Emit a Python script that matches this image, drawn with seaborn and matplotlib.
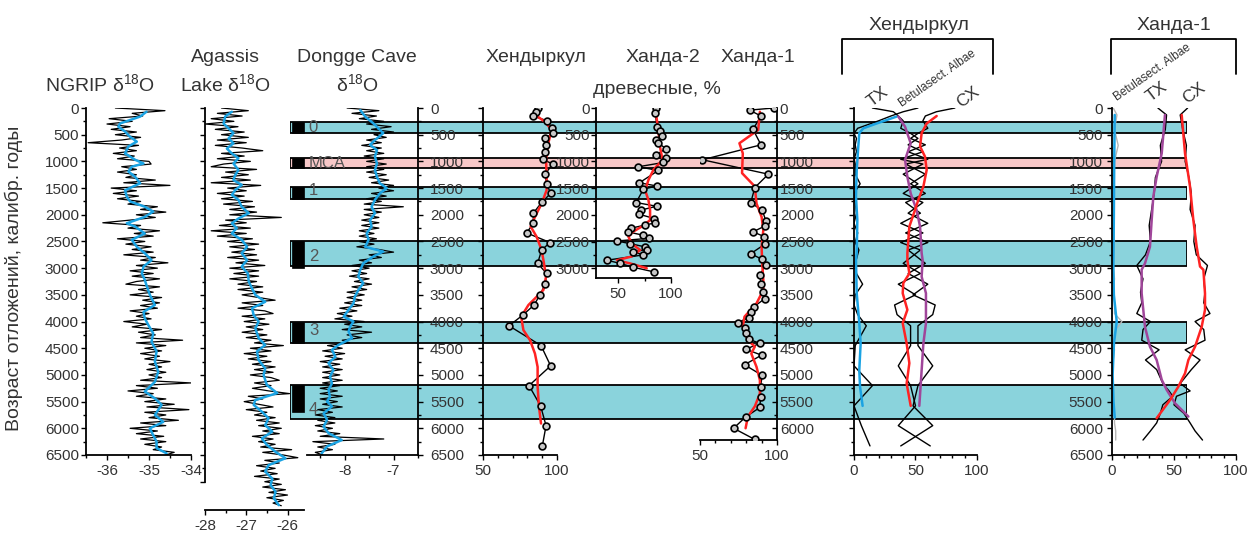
import numpy as np
import matplotlib
matplotlib.use("Agg")
import matplotlib.pyplot as plt
import seaborn as sns
from matplotlib.ticker import MultipleLocator
from matplotlib.lines import Line2D

sns.set_theme(style="ticks")
plt.rcParams["font.family"] = ["Liberation Sans", "DejaVu Sans"]
plt.rcParams["mathtext.fontset"] = "custom"
plt.rcParams["mathtext.rm"] = "Liberation Sans"
plt.rcParams["axes.unicode_minus"] = False

# ---------------- данные (возраст, кал. лет назад) ----------------
# NGRIP d18O, шаг 50 лет
ngrip_age = np.arange(0, 6501, 50)
ngrip_d18o = [
    -35.80, -34.62, -35.40, -35.15, -35.95, -35.40, -36.00, -35.45, -35.90, -35.30,
    -35.80, -35.20, -35.65, -36.45, -35.25, -35.70, -35.30, -35.85, -35.35, -35.75,
    -35.00, -34.95, -35.65, -35.30, -35.75, -35.30, -35.55, -34.85, -35.60, -34.50,
    -35.90, -35.30, -35.85, -35.25, -35.75, -35.20, -35.50, -34.80, -35.20, -34.60,
    -35.30, -34.85, -35.45, -36.10, -35.20, -35.50, -34.75, -35.35, -34.90, -35.75,
    -35.10, -35.55, -34.95, -35.40, -34.90, -35.60, -34.85, -35.20, -34.55, -35.30,
    -34.80, -35.45, -34.90, -35.40, -34.75, -35.30, -35.55, -34.75, -35.25, -34.90,
    -35.45, -34.70, -35.15, -34.75, -35.20, -34.80, -35.45, -35.00, -35.30, -34.95,
    -35.60, -35.05, -35.40, -34.70, -35.25, -34.85, -35.20, -34.20, -35.30, -34.60,
    -35.10, -34.70, -35.20, -34.75, -35.10, -34.50, -35.00, -34.70, -35.05, -34.60,
    -35.00, -34.70, -35.20, -34.00, -35.30, -34.80, -35.50, -34.90, -35.30, -34.60,
    -35.10, -34.40, -35.05, -34.05, -35.10, -34.60, -35.00, -34.30, -35.20, -34.60,
    -35.45, -34.80, -35.30, -34.65, -35.20, -34.60, -35.10, -34.70, -34.90, -34.40,
    -34.60]
ngrip_s_age = [70, 160, 290, 350, 440, 540, 630, 720, 850, 970, 1040, 1100, 1190, 1290,
               1410, 1540, 1660, 1750, 1850, 1940, 2040, 2160, 2220, 2350, 2470, 2600,
               2720, 2850, 2970, 3100, 3220, 3320, 3500, 3690, 3820, 3940, 4060, 4220,
               4380, 4560, 4750, 4940, 5130, 5310, 5440, 5560, 5750, 5880, 6000, 6130,
               6250, 6370, 6470]
ngrip_s = [-35.06, -35.21, -35.69, -35.73, -35.57, -35.45, -35.29, -35.49, -35.57, -35.33,
           -35.13, -35.41, -35.49, -35.33, -35.21, -35.57, -35.53, -35.45, -35.10, -34.90,
           -35.10, -35.53, -35.33, -35.10, -35.41, -35.29, -35.10, -34.94, -35.13, -35.17,
           -35.10, -35.06, -34.98, -34.86, -35.13, -35.10, -35.02, -34.90, -34.94, -34.82,
           -34.86, -34.78, -34.86, -35.10, -34.86, -34.70, -34.86, -34.66, -34.98, -34.90,
           -34.82, -34.82, -34.58]

# Agassiz Lake d18O, шаг 50 лет
agassiz_age = np.arange(0, 7451, 50)
agassiz_d18o = [
    -27.60, -26.95, -27.70, -27.10, -27.85, -27.30, -28.00, -27.20, -27.75, -27.05,
    -27.60, -26.95, -27.70, -27.00, -27.75, -27.10, -26.60, -27.60, -27.05, -27.70,
    -26.90, -27.55, -27.85, -26.75, -27.50, -26.95, -27.60, -26.90, -27.85, -26.65,
    -27.45, -27.00, -27.70, -27.05, -27.60, -26.85, -27.55, -26.80, -27.40, -26.75,
    -27.40, -26.15, -27.50, -27.00, -27.65, -26.90, -27.85, -27.00, -27.70, -26.85,
    -27.45, -26.70, -27.40, -26.80, -27.35, -26.75, -27.45, -26.70, -27.25, -26.55,
    -27.40, -26.70, -27.30, -26.70, -27.40, -26.75, -27.20, -26.60, -27.20, -26.60,
    -27.10, -26.70, -26.30, -27.10, -26.60, -27.20, -26.55, -26.35, -27.10, -26.55,
    -27.05, -26.45, -27.00, -26.60, -27.10, -26.50, -27.00, -26.40, -26.80, -26.10,
    -26.90, -26.40, -27.05, -26.50, -26.95, -26.40, -26.85, -26.30, -26.80, -26.35,
    -26.90, -26.40, -26.20, -26.80, -26.40, -26.85, -26.45, -25.95, -26.95, -26.60,
    -27.05, -26.70, -26.35, -27.00, -26.50, -26.80, -26.30, -26.75, -26.20, -26.70,
    -26.15, -26.60, -26.20, -26.85, -26.35, -26.70, -26.30, -26.65, -25.90, -26.60,
    -26.10, -25.75, -26.55, -26.20, -26.75, -26.30, -26.65, -26.25, -26.80, -26.20,
    -26.55, -26.15, -26.60, -26.05, -26.45, -26.00, -26.50, -26.10, -26.35, -26.15]
agassiz_s_age = [70, 160, 290, 380, 470, 570, 660, 760, 850, 940, 1040, 1160, 1260, 1350,
                 1440, 1540, 1630, 1720, 1850, 1970, 2070, 2160, 2250, 2350, 2470, 2600,
                 2720, 2850, 2970, 3100, 3250, 3380, 3500, 3630, 3750, 3880, 4000, 4130,
                 4310, 4440, 4560, 4720, 4880, 5000, 5190, 5340, 5470, 5560, 5690, 5810,
                 5940, 6060, 6190, 6310, 6440, 6560, 6690, 6810, 6940, 7060, 7190, 7310,
                 7440]
agassiz_s = [-27.35, -27.51, -27.55, -27.43, -27.31, -27.43, -27.31, -27.47, -27.35, -27.19,
             -27.31, -27.19, -27.27, -27.31, -27.11, -27.27, -27.35, -27.19, -27.11, -26.94,
             -27.19, -27.35, -27.23, -27.35, -27.11, -26.98, -27.11, -26.98, -27.11, -26.96,
             -26.94, -26.86, -26.78, -26.54, -26.86, -26.82, -26.70, -26.78, -26.70, -26.54,
             -26.74, -26.70, -26.54, -26.58, -26.50, -26.25, -26.78, -26.82, -26.62, -26.46,
             -26.54, -26.37, -26.62, -26.50, -26.29, -26.05, -26.46, -26.54, -26.37, -26.41,
             -26.29, -26.33, -26.21]

# Dongge Cave d18O, шаг 50 лет
dongge_age = np.arange(0, 6501, 50)
dongge_d18o = [
    -7.95, -7.30, -7.85, -7.35, -7.70, -7.20, -7.55, -7.05, -7.45, -7.00,
    -7.40, -7.15, -7.55, -7.25, -7.65, -7.25, -7.55, -7.20, -7.60, -7.20,
    -7.55, -7.15, -7.55, -7.20, -7.55, -7.15, -7.50, -7.10, -7.45, -7.00,
    -7.30, -7.00, -7.45, -7.15, -7.55, -7.25, -7.60, -6.80, -7.60, -7.25,
    -7.60, -7.30, -7.65, -7.30, -7.65, -7.30, -7.70, -7.40, -7.70, -7.35,
    -7.70, -7.40, -7.75, -7.30, -7.00, -7.50, -7.25, -7.70, -7.45, -7.85,
    -7.50, -7.85, -7.55, -7.90, -7.50, -7.80, -7.45, -7.85, -7.55, -7.95,
    -7.60, -7.95, -7.65, -8.00, -7.65, -8.10, -7.75, -8.15, -7.85, -8.20,
    -7.60, -8.00, -7.65, -8.05, -7.45, -7.95, -7.65, -8.05, -7.90, -8.35,
    -8.05, -8.45, -8.00, -8.40, -8.05, -8.50, -8.10, -8.45, -8.05, -8.45,
    -8.10, -8.45, -8.05, -8.45, -8.10, -8.50, -8.15, -8.50, -8.05, -8.50,
    -8.15, -8.45, -8.05, -8.55, -8.25, -8.60, -8.20, -8.55, -8.20, -8.60,
    -8.25, -8.55, -8.10, -8.50, -7.20, -8.65, -8.20, -8.55, -8.25, -8.60,
    -8.45]
dongge_s_age = [40, 160, 290, 410, 470, 600, 690, 790, 910, 1040, 1160, 1290, 1410, 1500,
                1600, 1720, 1850, 1970, 2100, 2220, 2350, 2470, 2600, 2690, 2780, 2910,
                3030, 3160, 3280, 3410, 3530, 3660, 3780, 3910, 4000, 4100, 4190, 4310,
                4440, 4530, 4660, 4780, 4910, 5030, 5160, 5280, 5410, 5500, 5590, 5720,
                5840, 5970, 6090, 6220, 6340, 6470]
dongge_s = [-7.68, -7.58, -7.41, -7.28, -7.21, -7.38, -7.48, -7.34, -7.38, -7.34,
            -7.38, -7.34, -7.28, -7.14, -7.28, -7.38, -7.45, -7.38, -7.48, -7.45,
            -7.55, -7.51, -7.58, -7.21, -7.41, -7.62, -7.68, -7.72, -7.62, -7.72,
            -7.79, -7.82, -7.92, -8.02, -7.82, -7.89, -7.92, -7.85, -8.13, -8.26,
            -8.19, -8.33, -8.23, -8.30, -8.26, -8.33, -8.30, -8.36, -8.26, -8.43,
            -8.36, -8.43, -8.33, -8.06, -8.36, -8.47]

# Хендыркул: древесные, %
khend_age = [0, 70, 150, 240, 380, 475, 570, 690, 820, 960, 1050, 1240, 1420, 1600, 1770,
             1970, 2160, 2340, 2520, 2660, 2910, 3100, 3300, 3500, 3690, 3870, 4080, 4450,
             4830, 5200, 5580, 5950, 6330]
khend_woody = [87.4, 85.8, 83.6, 93.5, 96.4, 97.1, 91.9, 92.6, 91.9, 90.3, 97.1, 91.9, 93.0,
               95.7, 89.6, 84.0, 84.0, 79.5, 95.3, 89.6, 86.9, 93.0, 92.0, 88.5, 84.5, 77.3,
               67.6, 89.2, 95.7, 81.1, 88.9, 92.6, 90.1]
khend_s_age = [130, 260, 410, 660, 970, 1290, 1540, 1790, 2040, 2220, 2410, 2660, 2910,
               3160, 3410, 3690, 3910, 4160, 4350, 4600, 4850, 5220, 5590, 5910]
khend_s = [85.4, 91.9, 96.4, 94.1, 92.6, 93.0, 93.0, 89.6, 85.1, 82.2, 86.2, 89.6, 91.2,
           92.6, 90.8, 80.7, 75.8, 77.3, 81.8, 85.1, 86.9, 86.9, 87.8, 89.2]

# Ханда-2: древесные, %
kh2_age = [0, 90, 350, 440, 520, 600, 660, 760, 880, 940, 1020, 1100, 1170, 1400, 1460,
           1520, 1770, 1840, 1910, 1990, 2070, 2150, 2190, 2250, 2320, 2380, 2440, 2490,
           2540, 2600, 2650, 2690, 2750, 2850, 2910, 2980, 3070]
kh2_woody = [85.5, 84.8, 87.0, 89.5, 91.1, 85.8, 88.0, 95.3, 85.8, 95.3, 92.8, 69.2, 88.0,
             70.1, 86.5, 73.9, 67.0, 86.5, 71.7, 70.1, 84.2, 85.2, 75.8, 62.3, 59.1, 73.3,
             79.0, 48.8, 61.3, 75.5, 77.0, 63.8, 73.9, 39.3, 51.9, 63.8, 84.2]
kh2_s_age = [70, 410, 720, 970, 1160, 1350, 1540, 1720, 1910, 2100, 2220, 2320, 2410, 2540,
             2660, 2780, 2850, 2910, 3000]
kh2_s = [85.5, 88.0, 89.5, 92.0, 83.3, 78.6, 75.5, 78.6, 80.2, 80.2, 72.3, 63.8, 59.7, 62.9,
         70.8, 62.9, 48.8, 61.3, 77.0]

# Ханда-1: древесные, %
kh1_age = [0, 40, 150, 400, 690, 970, 1240, 1490, 1780, 1910, 2110, 2210, 2320, 2410, 2550,
           2730, 2830, 2940, 3130, 3300, 3440, 3570, 3720, 3820, 3930, 4020, 4130, 4220,
           4330, 4410, 4520, 4630, 4810, 5010, 5220, 5420, 5610, 5790, 6000, 6210]
kh1_woody = [97.8, 82.2, 89.6, 84.4, 89.6, 51.6, 94.4, 85.6, 82.9, 90.4, 92.7, 92.2, 84.4,
             91.8, 92.2, 82.9, 90.0, 92.7, 88.9, 89.6, 91.1, 92.2, 85.1, 82.9, 81.6, 74.4,
             78.9, 80.0, 81.6, 88.9, 79.6, 90.0, 78.9, 90.4, 89.3, 89.3, 88.9, 79.6, 71.8,
             85.6]
kh1_s_age = [70, 410, 660, 850, 1220, 1470, 1790, 2040, 2290, 2600, 2910, 3220, 3410, 3660,
             3910, 4100, 4350, 4470, 4600, 4850, 5100, 5350, 5590, 5780, 6000]
kh1_s = [88.9, 87.8, 75.6, 77.8, 77.3, 85.6, 86.7, 90.0, 91.1, 90.0, 90.4, 91.1, 91.1, 86.7,
         78.9, 77.8, 81.1, 85.6, 83.3, 86.7, 88.9, 88.9, 85.6, 81.1, 79.6]

# Хендыркул: пыльца, % (образцы те же, что и для древесных)
khend_betula = [52, 40, 30, 20, 3, 0, 2, 1, 2, 0, 1, 1, 5, 0, 1, 2, 0, 3, 1, 4, 1, 2, 7, 1,
                0, 3, 10, 1, 0, 15, 0, 6, 13]
khend_tx = [15, 32, 36, 40, 38, 46, 52, 44, 56, 38, 56, 40, 52, 40, 56, 44, 60, 42, 60, 44,
            58, 44, 60, 48, 66, 64, 52, 52, 64, 52, 48, 64, 38]
khend_cx = [82, 67, 58, 56, 60, 52, 46, 58, 44, 60, 42, 58, 46, 58, 42, 54, 38, 56, 38, 54,
            40, 54, 36, 50, 33, 35, 46, 46, 36, 46, 50, 36, 62]
khend_betula_s_age = [160, 290, 380, 470, 720, 1160, 1660, 2100, 2720, 2850, 3470, 4030,
                      4410, 4910, 5220, 5580]
khend_betula_s = [34.7, 18.4, 7.6, 4.3, 3.5, 2.2, 1.6, 2.7, 2.2, 1.6, 2.2, 4.3, 5.4, 4.3,
                  4.9, 7.0]
khend_tx_s_age = [160, 350, 660, 970, 1290, 1600, 1910, 2220, 2720, 2850, 3160, 3470, 4030,
                  4410, 4910, 5580]
khend_tx_s = [36.0, 41.5, 46.1, 41.5, 43.4, 46.1, 50.9, 53.7, 55.0, 55.8, 55.0, 58.5, 58.5,
              56.4, 55.0, 53.1]
khend_cx_s_age = [150, 290, 470, 720, 910, 1160, 1470, 1720, 1910, 2220, 2720, 2850, 3100,
                  3280, 3470, 3780, 4030, 4410, 4780, 5160, 5580]
khend_cx_s = [67.2, 59.1, 55.0, 53.7, 57.7, 59.1, 56.4, 52.3, 49.6, 45.0, 43.4, 43.4, 45.0,
              40.1, 39.6, 43.4, 39.6, 42.8, 45.0, 42.8, 46.1]

# Ханда-1: пыльца, %
kh1p_age = [0, 130, 400, 700, 1000, 1300, 1600, 1900, 2200, 2500, 2750, 2950, 3200, 3450,
            3650, 3850, 4000, 4150, 4350, 4530, 4720, 4900, 5160, 5300, 5400, 5560, 5720,
            5900, 6050, 6220]
kh1p_betula = [1, 4, 2, 5, 2, 1, 2, 1, 1, 2, 1, 1, 2, 1, 2, 2, 8, 3, 1, 2, 1, 0, 1, 0, 1, 1,
               2, 2, 3, 3]
kh1p_tx = [37, 44, 43, 39, 40, 35, 34, 32, 30, 31, 27, 20, 25, 23, 24, 20, 31, 25, 24, 38,
           27, 36, 41, 46, 49, 41, 39, 36, 31, 25]
kh1p_cx = [61, 55, 57, 60, 59, 62, 64, 63, 67, 66, 68, 77, 74, 75, 74, 79, 67, 74, 75, 59,
           71, 64, 55, 63, 52, 50, 58, 63, 67, 73]
kh1p_betula_s_age = [130, 1000, 2000, 3000, 3500, 4000, 4400, 5000, 5500, 5800]
kh1p_betula_s = [2.2, 1.8, 1.5, 1.1, 1.5, 3.8, 1.6, 0.5, 1.2, 2.2]
kh1p_tx_s_age = [130, 850, 1290, 1660, 2100, 2600, 2910, 3030, 3470, 4100, 4470, 4720, 5090,
                 5280, 5530, 5780]
kh1p_tx_s = [42.7, 40.1, 36.0, 33.3, 32.0, 30.6, 26.6, 23.9, 23.9, 26.6, 30.6, 36.0, 40.1,
             44.1, 50.8, 61.6]
kh1p_cx_s_age = [130, 850, 1470, 2100, 2600, 2970, 3030, 3470, 3780, 4100, 4470, 4720, 4970,
                 5220, 5470, 5810]
kh1p_cx_s = [56.2, 58.9, 62.9, 65.6, 68.3, 71.0, 73.7, 75.0, 75.0, 72.3, 67.0, 61.6, 58.9,
             53.5, 46.8, 36.0]

# Интервалы похолоданий / MCA
band_names = ["0", "MCA", "1", "2", "3", "4"]
band_top = [270, 940, 1480, 2490, 4010, 5180]
band_bottom = [470, 1130, 1700, 2960, 4400, 5820]
band_mark_bottom = [470, 1130, 1700, 2990, 4400, 5700]
band_label_age = [360, 1035, 1540, 2790, 4160, 5640]
band_colors = ["#8ad3dc", "#f8c8c8", "#8ad3dc", "#8ad3dc", "#8ad3dc", "#8ad3dc"]

# ---------------- рисунок ----------------
W, H = 1253, 536
fig = plt.figure(figsize=(W / 100, H / 100), dpi=100)
fig.patch.set_facecolor("white")

BLUE = "#1aa3e3"
RED = "#ff2323"
PURPLE = "#a0469a"
TXT = "#333333"


def panel(x0, x1, y0, y1, xlim, ylim, z=3):
    ax = fig.add_axes([x0 / W, 1 - y1 / H, (x1 - x0) / W, (y1 - y0) / H])
    ax.set_facecolor("none")
    ax.set_zorder(z)
    ax.grid(False)
    for s in ax.spines.values():
        s.set_visible(False)
        s.set_linewidth(1.3)
        s.set_color("black")
    ax.tick_params(which="both", direction="out", color="black", width=1.0,
                   labelsize=11, labelcolor=TXT, pad=2,
                   left=False, right=False, top=False, bottom=False,
                   labelleft=False, labelright=False, labeltop=False, labelbottom=False)
    ax.tick_params(which="major", length=3.6)
    ax.tick_params(which="minor", length=2.2)
    ax._lims = (xlim, ylim)
    return ax


def finish(ax):
    xlim, ylim = ax._lims
    ax.set_xlim(*xlim)
    ax.set_ylim(*ylim)
    ax.set_xlabel("")
    ax.set_ylabel("")


def age_axis(ax, side, labels, pad=2, direction="out", ticks=None):
    ax.spines[side].set_visible(True)
    if ticks is None:
        ax.yaxis.set_major_locator(MultipleLocator(500))
        ax.yaxis.set_minor_locator(MultipleLocator(250))
    else:
        ax.set_yticks(ticks)
        ax.set_yticks([t + 250 for t in ticks[:-1]], minor=True)
    ax.tick_params(axis="y", which="both", direction=direction, pad=pad,
                   **{side: True, "label" + side: labels})


def value_axis(ax, major, minor, pad=3):
    ax.spines["bottom"].set_visible(True)
    ax.xaxis.set_major_locator(MultipleLocator(major))
    ax.xaxis.set_minor_locator(MultipleLocator(minor))
    ax.tick_params(axis="x", which="both", bottom=True, labelbottom=True, pad=pad)


def curve(ax, x, y, color, lw):
    sns.lineplot(x=x, y=y, ax=ax, sort=False, estimator=None, color=color,
                 linewidth=lw, legend=False)


def dots(ax, x, y):
    sns.scatterplot(x=x, y=y, ax=ax, s=24, facecolor="#c8c8c8", edgecolor="black",
                    linewidth=1.2, zorder=4, legend=False)


def ftext(x, y, s, **kw):
    fig.text(x / W, 1 - y / H, s, color=TXT, ha="center", va="center", **kw)


# --- полосы похолоданий ---
axb = panel(290, 1187, 108, 455, (0, 1), (6500, 0), z=1)
for name, t, b, mb, la, c in zip(band_names, band_top, band_bottom, band_mark_bottom,
                                 band_label_age, band_colors):
    axb.axhspan(t, b, xmin=0, xmax=1, facecolor=c, edgecolor="black", linewidth=1.3)
    axb.axhspan(t, mb, xmin=0.002, xmax=0.016, facecolor="black", edgecolor="black",
                linewidth=0.5)
    axb.text(0.021, la, name, transform=axb.get_yaxis_transform(), fontsize=12,
             color="#555555", ha="left", va="center")
axb.set_axis_off()
finish(axb)

# --- NGRIP ---
ax1 = panel(86, 191, 108, 455, (-36.5, -34.0), (6500, 0))
curve(ax1, ngrip_d18o, ngrip_age, "black", 0.9)
curve(ax1, ngrip_s, ngrip_s_age, BLUE, 1.8)
age_axis(ax1, "left", True, pad=1.5)
value_axis(ax1, 1, 0.5)
finish(ax1)

# --- Agassiz ---
ax2 = panel(205, 304, 108, 510, (-28.0, -25.6), (7530, 0))
curve(ax2, agassiz_d18o, agassiz_age, "black", 0.9)
curve(ax2, agassiz_s, agassiz_s_age, BLUE, 1.8)
age_axis(ax2, "left", False, ticks=list(range(0, 7001, 500)))
ax2.spines["left"].set_bounds(0, 7000)
value_axis(ax2, 1, 0.5)
finish(ax2)

# --- Dongge Cave ---
ax3 = panel(307, 418, 108, 455, (-8.77, -6.5), (6500, 0))
curve(ax3, dongge_d18o, dongge_age, "black", 0.9)
curve(ax3, dongge_s, dongge_s_age, BLUE, 1.8)
age_axis(ax3, "right", True, pad=5)
value_axis(ax3, 1, 0.5)
finish(ax3)

# --- Хендыркул, древесные ---
ax4 = panel(483, 557, 108, 455, (50, 100), (6500, 0))
curve(ax4, khend_woody, khend_age, "black", 1.0)
dots(ax4, khend_woody, khend_age)
curve(ax4, khend_s, khend_s_age, RED, 1.8)
age_axis(ax4, "left", False)
value_axis(ax4, 50, 10)
finish(ax4)

# --- Ханда-2, древесные ---
ax5 = panel(596, 671, 108, 278, (29, 100), (3183, 0))
curve(ax5, kh2_woody, kh2_age, "black", 1.0)
dots(ax5, kh2_woody, kh2_age)
curve(ax5, kh2_s, kh2_s_age, RED, 1.8)
age_axis(ax5, "left", True, pad=1)
value_axis(ax5, 50, 25)
finish(ax5)

# --- Ханда-1, древесные ---
ax6 = panel(700, 777, 108, 440, (50, 100), (6220, 0))
curve(ax6, kh1_woody, kh1_age, "black", 1.0)
dots(ax6, kh1_woody, kh1_age)
curve(ax6, kh1_s, kh1_s_age, RED, 1.8)
age_axis(ax6, "right", True, pad=2, direction="in")
value_axis(ax6, 50, 10)
finish(ax6)

# --- Хендыркул, пыльца ---
ax7 = panel(854, 977, 108, 455, (0, 100), (6500, 0))
curve(ax7, khend_betula, khend_age, "black", 1.0)
curve(ax7, khend_tx, khend_age, "black", 1.0)
curve(ax7, khend_cx, khend_age, "black", 1.0)
curve(ax7, khend_betula_s, khend_betula_s_age, BLUE, 1.8)
curve(ax7, khend_tx_s, khend_tx_s_age, PURPLE, 1.8)
curve(ax7, khend_cx_s, khend_cx_s_age, RED, 1.8)
age_axis(ax7, "left", False)
value_axis(ax7, 50, 10)
finish(ax7)

# --- Ханда-1, пыльца ---
ax8 = panel(1112, 1236, 108, 455, (0, 100), (6500, 0))
curve(ax8, kh1p_betula, kh1p_age, "#b5b5b5", 1.0)
curve(ax8, kh1p_tx, kh1p_age, "black", 1.0)
curve(ax8, kh1p_cx, kh1p_age, "black", 1.0)
curve(ax8, kh1p_betula_s, kh1p_betula_s_age, BLUE, 1.8)
curve(ax8, kh1p_tx_s, kh1p_tx_s_age, PURPLE, 1.8)
curve(ax8, kh1p_cx_s, kh1p_cx_s_age, RED, 1.8)
age_axis(ax8, "left", True, pad=3)
value_axis(ax8, 50, 10)
finish(ax8)

# --- подписи ---
ftext(100, 84, r"NGRIP $\mathregular{\delta^{18}}$O", fontsize=14)
ftext(225, 58, "Agassis", fontsize=14)
ftext(225, 84, r"Lake $\mathregular{\delta^{18}}$O", fontsize=14)
ftext(357, 58, "Dongge Cave", fontsize=14)
ftext(357, 84, r"$\mathregular{\delta^{18}}$O", fontsize=14)
ftext(536, 58, "Хендыркул", fontsize=14)
ftext(663, 58, "Ханда-2", fontsize=14)
ftext(758, 58, "Ханда-1", fontsize=14)
ftext(657, 90, "древесные, %", fontsize=14)
ftext(919, 25, "Хендыркул", fontsize=14)
ftext(1174, 25, "Ханда-1", fontsize=14)
ftext(14, 278, "Возраст отложений, калибр. годы", fontsize=14, rotation=90)

ftext(878, 97, "TX", fontsize=12.5, rotation=37)
ftext(937, 79, "Betulasect. Albae", fontsize=8.5, rotation=35)
ftext(968, 97, "CX", fontsize=12.5, rotation=37)
ftext(1152, 73, "Betulasect. Albae", fontsize=8.5, rotation=35)
ftext(1157, 92, "TX", fontsize=12.5, rotation=37)
ftext(1194, 93, "CX", fontsize=12.5, rotation=37)

# скобки над пыльцевыми диаграммами
for xa, xb in [(842, 993), (1111, 1236)]:
    xs = [xa / W, xa / W, xb / W, xb / W]
    ys = [1 - 74 / H, 1 - 39 / H, 1 - 39 / H, 1 - 74 / H]
    fig.add_artist(Line2D(xs, ys, color="black", linewidth=1.3))

fig.savefig("out.png", dpi=100, facecolor="white")
